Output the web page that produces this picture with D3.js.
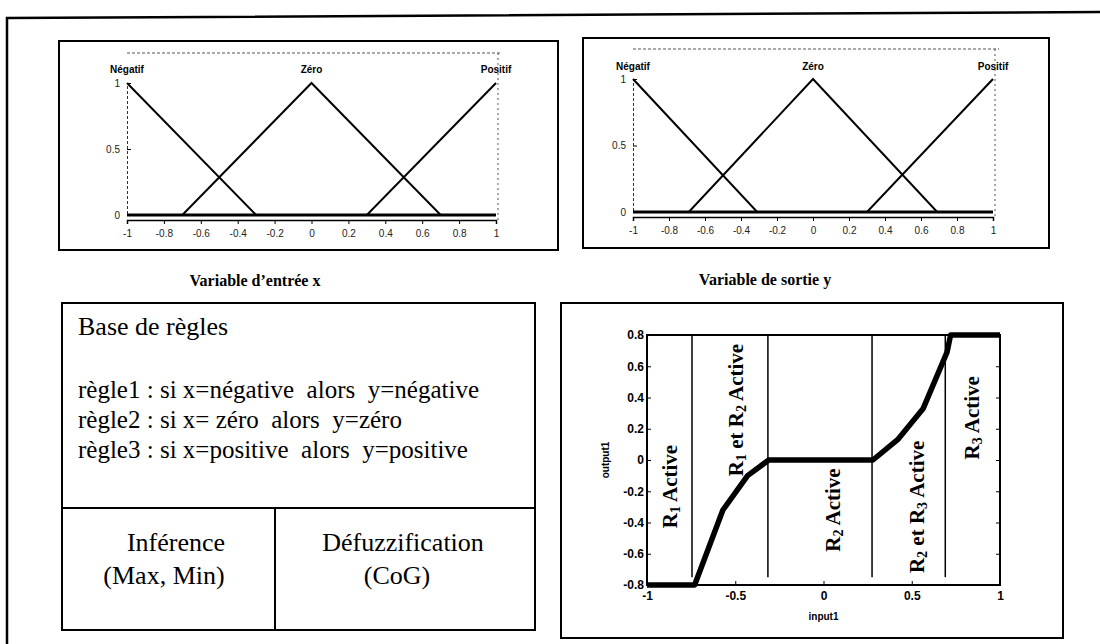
<!DOCTYPE html>
<html>
<head>
<meta charset="utf-8">
<script src="https://cdn.jsdelivr.net/npm/d3@7"></script>
<style>
  body { margin: 0; background: #fff; }
  svg { display: block; }
</style>
</head>
<body>
<svg id="fig" width="1100" height="644"></svg>
<script>
// --- Data ---
const mfTicks = [-1, -0.8, -0.6, -0.4, -0.2, 0, 0.2, 0.4, 0.6, 0.8, 1];
const mfTickLabels = ['-1', '-0.8', '-0.6', '-0.4', '-0.2', '0', '0.2', '0.4', '0.6', '0.8', '1'];
const mfYTicks = [0, 0.5, 1];
const mfNames = ['Négatif', 'Zéro', 'Positif'];
const mfPeaks = [-1, 0, 1];

// membership functions, input x
const inNegatif = [[-1, 1], [-0.3, 0], [1, 0]];
const inZero    = [[-1, 0], [-0.7, 0], [0, 1], [0.7, 0], [1, 0]];
const inPositif = [[-1, 0], [0.3, 0], [1, 1]];

// membership functions, output y
const outNegatif = [[-1, 1], [-0.31, 0], [1, 0]];
const outZero    = [[-1, 0], [-0.69, 0], [0, 1], [0.69, 0], [1, 0]];
const outPositif = [[-1, 0], [0.3, 0], [1, 1]];

// control surface input1 -> output1
const surfX = [-1, -0.73, -0.57, -0.43, -0.31, 0.28, 0.42, 0.565, 0.70, 0.72, 1];
const surfY = [-0.8, -0.8, -0.32, -0.10, 0, 0, 0.13, 0.33, 0.69, 0.8, 0.8];
const regionEdges = [-0.745, -0.315, 0.275, 0.69];
const surfXTicks = [-1, -0.5, 0, 0.5, 1];
const surfXTickLabels = ['-1', '-0.5', '0', '0.5', '1'];
const surfYTicks = [-0.8, -0.6, -0.4, -0.2, 0, 0.2, 0.4, 0.6, 0.8];
const surfYTickLabels = ['-0.8', '-0.6', '-0.4', '-0.2', '0', '0.2', '0.4', '0.6', '0.8'];
const regionLabels = [
  { parts: [['R', 0], ['1', 1], [' Active', 0]], x: -0.87, y: -0.17 },
  { parts: [['R', 0], ['1', 1], [' et R', 0], ['2', 1], [' Active', 0]], x: -0.50, y: 0.32 },
  { parts: [['R', 0], ['2', 1], [' Active', 0]], x: 0.05, y: -0.32 },
  { parts: [['R', 0], ['2', 1], [' et R', 0], ['3', 1], [' Active', 0]], x: 0.53, y: -0.30 },
  { parts: [['R', 0], ['3', 1], [' Active', 0]], x: 0.84, y: 0.27 }
];

const ruleTitle = 'Base de règles';
const rules = [
  'règle1 : si x=négative  alors  y=négative',
  'règle2 : si x= zéro  alors  y=zéro',
  'règle3 : si x=positive  alors  y=positive'
];

const SERIF = '"Liberation Serif", "Times New Roman", serif';
const SANS = '"Liberation Sans", Arial, sans-serif';

const svg = d3.select('#fig');

// --- outer frame and panel boxes ---
svg.append('path')
  .attr('d', 'M7,644 L7,18 L1100,12')
  .attr('fill', 'none').attr('stroke', '#000').attr('stroke-width', 2.5);

const boxes = [
  [59, 41, 558, 250],
  [583, 38, 1049, 248],
  [62, 303, 535, 630],
  [561, 303, 1063, 638]
];
boxes.forEach(([x0, y0, x1, y1]) => {
  svg.append('rect')
    .attr('x', x0).attr('y', y0)
    .attr('width', x1 - x0).attr('height', y1 - y0)
    .attr('fill', 'none').attr('stroke', '#000').attr('stroke-width', 2);
});

// --- membership function plots ---
function mfPlot(xr, yr, sets, labelY) {
  const x = d3.scaleLinear().domain([-1, 1]).range(xr);
  const y = d3.scaleLinear().domain([0, 1]).range(yr);
  const g = svg.append('g');

  // faint axes box (dotted)
  g.append('line')
    .attr('x1', x(-1)).attr('x2', x(1) + 6)
    .attr('y1', y(1) - 30).attr('y2', y(1) - 30)
    .attr('stroke', '#555').attr('stroke-width', 1).attr('stroke-dasharray', '3,2');
  g.append('line')
    .attr('x1', x(1) + 2).attr('x2', x(1) + 2)
    .attr('y1', y(1) - 30).attr('y2', y(0) + 5)
    .attr('stroke', '#555').attr('stroke-width', 1).attr('stroke-dasharray', '2,3');

  // x axis
  const xAxis = d3.axisBottom(x)
    .tickValues(mfTicks)
    .tickFormat((d, i) => mfTickLabels[i])
    .tickSize(4).tickPadding(6);
  const gx = g.append('g')
    .attr('transform', `translate(0,${y(0) + 5})`)
    .call(xAxis);
  gx.select('.domain').attr('stroke', '#000').attr('stroke-width', 1.5);
  gx.selectAll('text')
    .attr('font-family', SANS).attr('font-size', 10).attr('fill', '#222');

  // y axis
  const yAxis = d3.axisLeft(y)
    .tickValues(mfYTicks)
    .tickFormat(d => d === 0.5 ? '0.5' : String(d))
    .tickSize(-4).tickPadding(7);
  const gy = g.append('g')
    .attr('transform', `translate(${x(-1)},0)`)
    .call(yAxis);
  gy.select('.domain').attr('stroke', '#333').attr('stroke-width', 1).attr('stroke-dasharray', '3,2');
  gy.selectAll('text')
    .attr('font-family', SANS).attr('font-size', 10).attr('fill', '#222');

  // baseline at 0
  g.append('line')
    .attr('x1', x(-1)).attr('x2', x(1))
    .attr('y1', y(0)).attr('y2', y(0))
    .attr('stroke', '#000').attr('stroke-width', 3);

  const line = d3.line().x(d => x(d[0])).y(d => y(d[1]));
  sets.forEach(pts => {
    g.append('path')
      .attr('d', line(pts))
      .attr('fill', 'none').attr('stroke', '#000').attr('stroke-width', 2);
  });

  g.selectAll('text.mfname')
    .data(mfNames)
    .join('text')
    .attr('class', 'mfname')
    .attr('x', (d, i) => x(mfPeaks[i]))
    .attr('y', labelY)
    .attr('text-anchor', 'middle')
    .attr('font-family', SANS).attr('font-size', 10).attr('font-weight', 'bold')
    .text(d => d);
}

mfPlot([127, 496], [215, 83], [inNegatif, inZero, inPositif], 73);
mfPlot([633, 993], [212, 79], [outNegatif, outZero, outPositif], 70);

// captions
svg.append('text')
  .attr('x', 255).attr('y', 286)
  .attr('text-anchor', 'middle')
  .attr('font-family', SERIF).attr('font-size', 16).attr('font-weight', 'bold')
  .text('Variable d’entrée x');
svg.append('text')
  .attr('x', 765).attr('y', 285)
  .attr('text-anchor', 'middle')
  .attr('font-family', SERIF).attr('font-size', 16).attr('font-weight', 'bold')
  .text('Variable de sortie y');

// --- rule base box ---
svg.append('line')
  .attr('x1', 62).attr('x2', 535).attr('y1', 508).attr('y2', 508)
  .attr('stroke', '#000').attr('stroke-width', 2);
svg.append('line')
  .attr('x1', 275).attr('x2', 275).attr('y1', 508).attr('y2', 630)
  .attr('stroke', '#000').attr('stroke-width', 2);

svg.append('text')
  .attr('x', 78).attr('y', 335)
  .attr('font-family', SERIF).attr('font-size', 26)
  .text(ruleTitle);
svg.selectAll('text.rule')
  .data(rules)
  .join('text')
  .attr('class', 'rule')
  .attr('x', 78)
  .attr('y', (d, i) => 398 + i * 30)
  .attr('font-family', SERIF).attr('font-size', 25)
  .attr('xml:space', 'preserve')
  .style('white-space', 'pre')
  .text(d => d);

const cells = [
  { lines: ['Inférence', '(Max, Min)'], cx: [176, 164] },
  { lines: ['Défuzzification', '(CoG)'], cx: [403, 397] }
];
cells.forEach(c => {
  c.lines.forEach((t, i) => {
    svg.append('text')
      .attr('x', c.cx[i]).attr('y', 551 + i * 33)
      .attr('text-anchor', 'middle')
      .attr('font-family', SERIF).attr('font-size', 26)
      .text(t);
  });
});

// --- control surface plot ---
const xs = d3.scaleLinear().domain([-1, 1]).range([647, 1000]);
const ys = d3.scaleLinear().domain([-0.8, 0.8]).range([585, 335]);
const gs = svg.append('g');

gs.append('rect')
  .attr('x', xs(-1)).attr('y', ys(0.8))
  .attr('width', xs(1) - xs(-1)).attr('height', ys(-0.8) - ys(0.8))
  .attr('fill', 'none').attr('stroke', '#000').attr('stroke-width', 2);

const sxAxis = d3.axisBottom(xs)
  .tickValues(surfXTicks)
  .tickFormat((d, i) => surfXTickLabels[i])
  .tickSize(-4).tickPadding(6);
const sgx = gs.append('g').attr('transform', `translate(0,${ys(-0.8)})`).call(sxAxis);
sgx.select('.domain').remove();
sgx.selectAll('text').attr('font-family', SANS).attr('font-size', 12).attr('font-weight', 'bold');

const syAxis = d3.axisLeft(ys)
  .tickValues(surfYTicks)
  .tickFormat((d, i) => surfYTickLabels[i])
  .tickSize(-4).tickPadding(3);
const sgy = gs.append('g').attr('transform', `translate(${xs(-1)},0)`).call(syAxis);
sgy.select('.domain').remove();
sgy.selectAll('text').attr('font-family', SANS).attr('font-size', 12).attr('font-weight', 'bold');

// right side ticks
const syAxisR = d3.axisRight(ys).tickValues(surfYTicks).tickSize(-4).tickFormat('');
const sgyR = gs.append('g').attr('transform', `translate(${xs(1)},0)`).call(syAxisR);
sgyR.select('.domain').remove();

// region separators
gs.selectAll('line.edge')
  .data(regionEdges)
  .join('line')
  .attr('class', 'edge')
  .attr('x1', d => xs(d)).attr('x2', d => xs(d))
  .attr('y1', ys(0.8)).attr('y2', ys(-0.75))
  .attr('stroke', '#000').attr('stroke-width', 1.5);

// curve
const surfLine = d3.line().x((d, i) => xs(surfX[i])).y(d => ys(d));
gs.append('path')
  .attr('d', surfLine(surfY))
  .attr('fill', 'none').attr('stroke', '#000').attr('stroke-width', 5.5)
  .attr('stroke-linejoin', 'round');

// rotated region labels
regionLabels.forEach(r => {
  const t = gs.append('text')
    .attr('transform', `translate(${xs(r.x)},${ys(r.y)}) rotate(-90)`)
    .attr('text-anchor', 'middle')
    .attr('dy', '0.35em')
    .attr('font-family', SERIF).attr('font-size', 21).attr('font-weight', 'bold')
    .attr('xml:space', 'preserve');
  let shifted = false;
  r.parts.forEach(([s, sub]) => {
    const ts = t.append('tspan').text(s);
    if (sub) { ts.attr('font-size', 14).attr('dy', 3); shifted = true; }
    else if (shifted) { ts.attr('dy', -3); shifted = false; }
  });
});

// axis titles
gs.append('text')
  .attr('x', xs(0)).attr('y', 620)
  .attr('text-anchor', 'middle')
  .attr('font-family', SANS).attr('font-size', 10).attr('font-weight', 'bold')
  .text('input1');
gs.append('text')
  .attr('transform', `translate(609,${ys(0)}) rotate(-90)`)
  .attr('text-anchor', 'middle')
  .attr('font-family', SANS).attr('font-size', 10).attr('font-weight', 'bold')
  .text('output1');
</script>
</body>
</html>
